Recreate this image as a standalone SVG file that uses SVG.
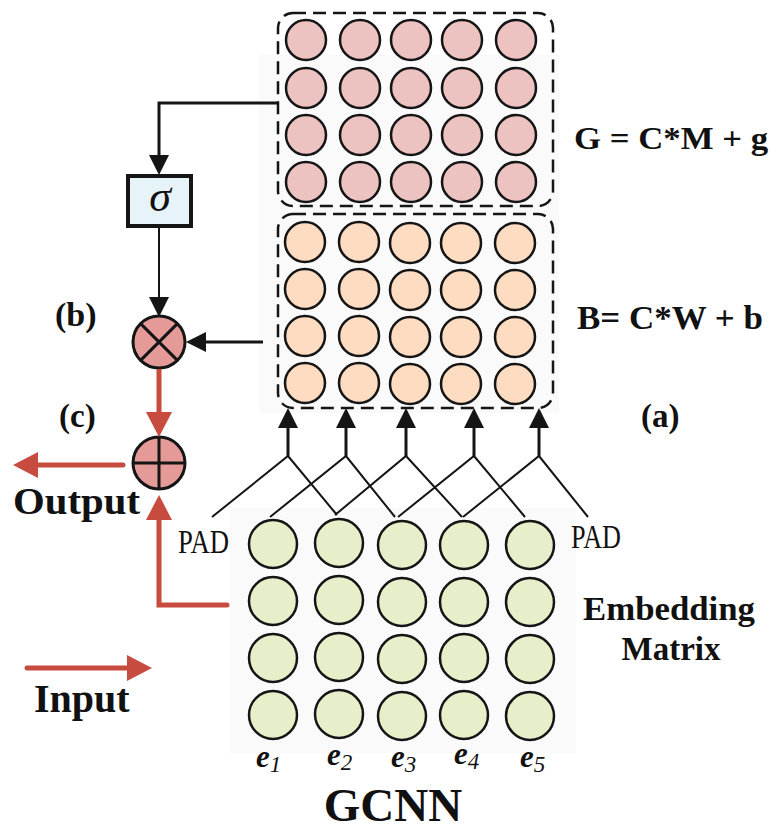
<svg xmlns="http://www.w3.org/2000/svg" width="771" height="832" viewBox="0 0 771 832">
<style>
.pk{fill:#ecc3c1;stroke:#151515;stroke-width:2.5}
.pe{fill:#fddcc1;stroke:#151515;stroke-width:2.5}
.gr{fill:#e6efc9;stroke:#151515;stroke-width:2.5}
.box{fill:none;stroke:#151515;stroke-width:2.5;stroke-dasharray:13 7}
.bt{font-family:"Liberation Serif",serif;font-weight:bold;fill:#111}
.pad{font-family:"Liberation Serif",serif;fill:#111;font-size:33px}
.ei{font-family:"Liberation Serif",serif;font-weight:bold;font-style:italic;fill:#111;font-size:31px}
.sub{font-family:"Liberation Serif",serif;font-style:italic;fill:#111;font-size:23px}
.th{stroke:#151515;stroke-width:2;fill:none}
.tk{stroke:#151515;stroke-width:3;fill:none}
.rd{stroke:#c84b3f;stroke-width:5;fill:none}
.op{fill:#e49b98;stroke:#151515;stroke-width:3}
</style>
<defs>
<marker id="ab" markerUnits="userSpaceOnUse" markerWidth="20" markerHeight="20" viewBox="0 0 20 20" refX="0" refY="10" orient="auto"><path d="M0,0 L20,10 L0,20 z" fill="#151515"/></marker>
<marker id="ar" markerUnits="userSpaceOnUse" markerWidth="25" markerHeight="26" viewBox="0 0 25 26" refX="0" refY="13" orient="auto"><path d="M0,0 L25,13 L0,26 z" fill="#c84b3f"/></marker>
</defs>
<rect x="0" y="0" width="771" height="832" fill="#fff"/>
<rect x="259" y="55" width="300" height="358" fill="#fafafa"/>
<rect x="230" y="508" width="346" height="245" fill="#fafafa"/>

<g id="gate-matrix">
<rect class="box" x="278" y="13" width="275" height="193" rx="15"/>
<g class="pk">
<circle cx="306" cy="40" r="20"/><circle cx="360" cy="40" r="20"/><circle cx="411" cy="40" r="20"/><circle cx="462" cy="40" r="20"/><circle cx="516" cy="40" r="20"/>
<circle cx="306" cy="88" r="20"/><circle cx="360" cy="88" r="20"/><circle cx="411" cy="88" r="20"/><circle cx="462" cy="88" r="20"/><circle cx="516" cy="88" r="20"/>
<circle cx="306" cy="135" r="20"/><circle cx="360" cy="135" r="20"/><circle cx="411" cy="135" r="20"/><circle cx="462" cy="135" r="20"/><circle cx="516" cy="135" r="20"/>
<circle cx="306" cy="182" r="20"/><circle cx="360" cy="182" r="20"/><circle cx="411" cy="182" r="20"/><circle cx="462" cy="182" r="20"/><circle cx="516" cy="182" r="20"/>
</g>
<text class="bt" x="574" y="149" font-size="32" textLength="194" lengthAdjust="spacingAndGlyphs">G = C*M + g</text>
</g>

<g id="linear-matrix">
<rect class="box" x="278" y="214" width="275" height="194" rx="15"/>
<g class="pe">
<circle cx="305" cy="242" r="20"/><circle cx="359" cy="242" r="20"/><circle cx="410" cy="243" r="20"/><circle cx="461" cy="243" r="20"/><circle cx="515" cy="243" r="20"/>
<circle cx="305" cy="289" r="20"/><circle cx="359" cy="289" r="20"/><circle cx="410" cy="290" r="20"/><circle cx="461" cy="290" r="20"/><circle cx="515" cy="290" r="20"/>
<circle cx="305" cy="336" r="20"/><circle cx="359" cy="336" r="20"/><circle cx="410" cy="337" r="20"/><circle cx="461" cy="337" r="20"/><circle cx="515" cy="337" r="20"/>
<circle cx="305" cy="383" r="20"/><circle cx="359" cy="383" r="20"/><circle cx="410" cy="384" r="20"/><circle cx="461" cy="384" r="20"/><circle cx="515" cy="384" r="20"/>
</g>
<text class="bt" x="577" y="329" font-size="33" textLength="186" lengthAdjust="spacingAndGlyphs">B= C*W + b</text>
</g>

<g id="embedding">
<g class="gr">
<circle cx="273" cy="544" r="24"/><circle cx="339" cy="543" r="24"/><circle cx="402" cy="545" r="24"/><circle cx="464" cy="545" r="24"/><circle cx="530" cy="545" r="24"/>
<circle cx="273" cy="601" r="24"/><circle cx="339" cy="600" r="24"/><circle cx="402" cy="602" r="24"/><circle cx="464" cy="602" r="24"/><circle cx="530" cy="602" r="24"/>
<circle cx="273" cy="658" r="24"/><circle cx="339" cy="657" r="24"/><circle cx="402" cy="659" r="24"/><circle cx="464" cy="658" r="24"/><circle cx="530" cy="659" r="24"/>
<circle cx="273" cy="715" r="24"/><circle cx="339" cy="714" r="24"/><circle cx="402" cy="716" r="24"/><circle cx="464" cy="715" r="24"/><circle cx="530" cy="716" r="24"/>
</g>
<text class="bt" x="669" y="620" font-size="33" text-anchor="middle" textLength="172" lengthAdjust="spacingAndGlyphs">Embedding</text>
<text class="bt" x="671" y="660" font-size="33" text-anchor="middle">Matrix</text>
<text class="pad" x="178" y="553" textLength="51" lengthAdjust="spacingAndGlyphs">PAD</text>
<text class="pad" x="571" y="548" textLength="50" lengthAdjust="spacingAndGlyphs">PAD</text>
<text x="256" y="767"><tspan class="ei">e</tspan><tspan class="sub" dy="5">1</tspan></text>
<text x="327" y="765"><tspan class="ei">e</tspan><tspan class="sub" dy="5">2</tspan></text>
<text x="391" y="767"><tspan class="ei">e</tspan><tspan class="sub" dy="5">3</tspan></text>
<text x="454" y="764"><tspan class="ei">e</tspan><tspan class="sub" dy="5">4</tspan></text>
<text x="520" y="767"><tspan class="ei">e</tspan><tspan class="sub" dy="5">5</tspan></text>
</g>

<g id="sigma">
<rect x="128" y="176" width="63" height="50" fill="#e6f4fa" stroke="#151515" stroke-width="4"/>
<text x="160" y="211" font-family="'Liberation Serif',serif" font-style="italic" font-size="44" text-anchor="middle" fill="#111">σ</text>
</g>

<g id="multiply">
<circle class="op" cx="159" cy="342" r="26"/>
<path class="tk" d="M140.6,323.6 L177.4,360.4 M177.4,323.6 L140.6,360.4" stroke-width="2.5"/>
</g>

<g id="add">
<circle class="op" cx="159" cy="463" r="26"/>
<path class="tk" d="M133,463 H185 M159,437 V489" stroke-width="2.5"/>
</g>

<g id="labels">
<text class="bt" x="55" y="326" font-size="34">(b)</text>
<text class="bt" x="59" y="427" font-size="33">(c)</text>
<text class="bt" x="641" y="427" font-size="33">(a)</text>
<text class="bt" x="13" y="514" font-size="37" textLength="127" lengthAdjust="spacingAndGlyphs">Output</text>
<text class="bt" x="34" y="712" font-size="40">Input</text>
<text class="bt" x="393" y="821" font-size="47" text-anchor="middle">GCNN</text>
</g>

<g id="connectors">
<path class="th" d="M212,517 L288,456 L337,515 M270,517 L346,456 L395,517 M335,515 L406,456 L462,517 M398,517 L474,456 L525,517 M463,517 L539,456 L588,517"/>
<path class="tk" d="M288,456 V428" marker-end="url(#ab)"/>
<path class="tk" d="M346,456 V428" marker-end="url(#ab)"/>
<path class="tk" d="M406,456 V428" marker-end="url(#ab)"/>
<path class="tk" d="M474,456 V428" marker-end="url(#ab)"/>
<path class="tk" d="M539,456 V428" marker-end="url(#ab)"/>
<path class="tk" d="M278,103 H159 V155" stroke-width="4" marker-end="url(#ab)"/>
<path class="th" d="M159,227 V297" marker-end="url(#ab)"/>
<path class="tk" d="M263,342 H206" marker-end="url(#ab)"/>
<path class="rd" d="M159,369 V412" marker-end="url(#ar)"/>
<path class="rd" d="M123,465 H38" stroke-linecap="round" marker-end="url(#ar)"/>
<path class="rd" d="M227,605 H159 V520" stroke-linecap="round" marker-end="url(#ar)"/>
<path class="rd" d="M27,668 H127" stroke-linecap="round" marker-end="url(#ar)"/>
</g>
</svg>
